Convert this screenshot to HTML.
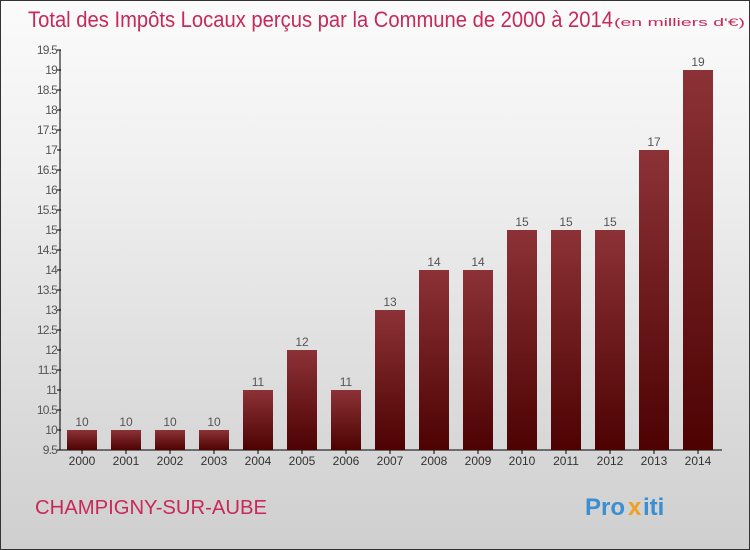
<!DOCTYPE html>
<html><head><meta charset="utf-8"><style>
html,body{margin:0;padding:0}
body{width:750px;height:550px;overflow:hidden;font-family:"Liberation Sans",sans-serif}
#wrap{position:absolute;left:0;top:0;width:748px;height:548px;border:1px solid #333;background:linear-gradient(#fbfbfb,#f0f0f0 30%,#d8d8d8 80%,#cfcfcf)}
</style></head><body>
<div id="wrap">
<svg width="750" height="550" style="position:absolute;left:-1px;top:-1px">
<defs><linearGradient id="bg" x1="0" y1="0" x2="0" y2="1"><stop offset="0" stop-color="#8c3236"/><stop offset="1" stop-color="#4d0202"/></linearGradient></defs>
<text x="28" y="27" font-size="22" fill="#c8285a" textLength="585" lengthAdjust="spacingAndGlyphs">Total des Impôts Locaux perçus par la Commune de 2000 à 2014</text>
<text x="614" y="26" font-size="11" fill="#c8285a" textLength="131" lengthAdjust="spacingAndGlyphs">(en milliers d'€)</text>
<g id="axes"></g><g id="bars"></g>
<text x="35" y="514" font-size="20" fill="#c8285a" textLength="232" lengthAdjust="spacingAndGlyphs">CHAMPIGNY-SUR-AUBE</text>
<g font-size="24" font-weight="bold">
<text x="585" y="515" fill="#3a8fd0">Pro</text><text x="628" y="515" fill="#f0a020">x</text><text x="643" y="515" fill="#3a8fd0">iti</text></g>
</svg></div>
<script>
const categories=["2000","2001","2002","2003","2004","2005","2006","2007","2008","2009","2010","2011","2012","2013","2014"];
const values=[10,10,10,10,11,12,11,13,14,14,15,15,15,17,19];
const ticks=[9.5,10,10.5,11,11.5,12,12.5,13,13.5,14,14.5,15,15.5,16,16.5,17,17.5,18,18.5,19,19.5];
const NS="http://www.w3.org/2000/svg";
const y0=450,y1=50,vmin=9.5,vmax=19.5;
const y=v=>y0-(v-vmin)/(vmax-vmin)*(y0-y1);
const x=i=>82+i*44;
function mk(t,a,p){const e=document.createElementNS(NS,t);for(const k in a)e.setAttribute(k,a[k]);p.appendChild(e);return e;}
const ax=document.getElementById('axes'),bs=document.getElementById('bars');
let l=mk('line',{x1:60,y1:y1,x2:60,y2:y0,stroke:'#000'},ax);


l=mk('line',{x1:60,y1:y0,x2:722,y2:y0,stroke:'#000'},ax);


ticks.forEach(t=>{mk('line',{x1:57,x2:61,y1:y(t),y2:y(t),stroke:'#000'},ax);
const tx=mk('text',{x:57,y:y(t)+4,'text-anchor':'end','font-size':12,fill:'#555','letter-spacing':'-0.8'},ax);tx.textContent=String(t);

});
categories.forEach((c,i)=>{
const r=mk('rect',{x:x(i)-15,y:y(values[i]),width:30,height:y0-y(values[i]),fill:'url(#bg)'},bs);


const v=mk('text',{x:x(i),y:y(values[i])-4,'text-anchor':'middle','font-size':12,fill:'#555'},bs);v.textContent=values[i];


mk('line',{x1:x(i),x2:x(i),y1:y0,y2:y0+4,stroke:'#000'},ax);
const lb=mk('text',{x:x(i),y:y0+15,'text-anchor':'middle','font-size':12,fill:'#333'},ax);lb.textContent=c;


});
</script>
</body></html>
